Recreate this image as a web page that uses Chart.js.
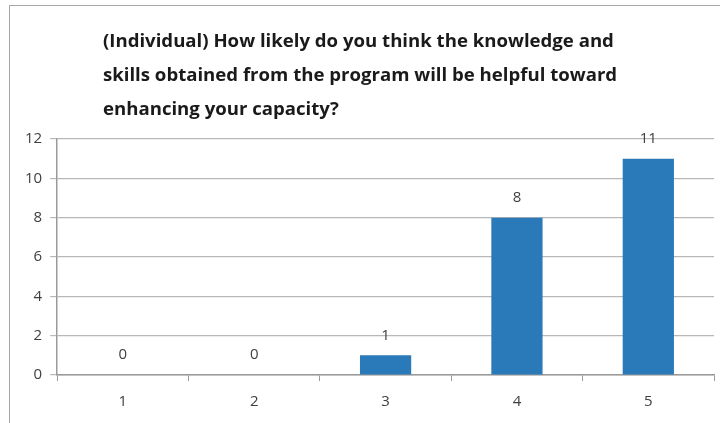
<!DOCTYPE html>
<html>
<head>
<meta charset="utf-8">
<script src="https://cdn.jsdelivr.net/npm/chart.js@4"></script>
<style>
  html, body { margin: 0; padding: 0; background: #fff; }
  #wrap { position: relative; width: 720px; height: 423px; overflow: hidden; }
  #frame { position: absolute; left: 9px; top: 5px; width: 720px; height: 430px;
           border-top: 1.5px solid #a8a8a8; border-left: 1.5px solid #a8a8a8; }
  #title { position: absolute; left: 103px; top: 23px; width: 560px;
           font-family: "Open Sans", sans-serif; font-weight: 700; font-size: 18.6px;
           line-height: 34px; color: #1a1a1a; }
  #chart { position: absolute; left: 0; top: 0; }
</style>
</head>
<body>
<div id="wrap">
  <div id="frame"></div>
  <canvas id="chart" width="720" height="423"></canvas>
  <div id="title">(Individual) How likely do you think the knowledge and<br>skills obtained from the program will be helpful toward<br>enhancing your capacity?</div>
</div>
<script>
// Rating scale and number of responses per rating
const ratings = ['1', '2', '3', '4', '5'];
const responses = [0, 0, 1, 8, 11];
const yTicks = [0, 2, 4, 6, 8, 10, 12];

// Draw each bar's value above it.
const valueLabels = {
    id: 'valueLabels',
    afterDatasetsDraw(chart) {
        const ctx = chart.ctx;
        const meta = chart.getDatasetMeta(0);
        ctx.save();
        ctx.fillStyle = '#404040';
        ctx.font = '15px "Open Sans", sans-serif';
        ctx.textAlign = 'center';
        ctx.textBaseline = 'middle';
        meta.data.forEach((bar, i) => {
            ctx.fillText(String(responses[i]), bar.x, bar.y - 20);
        });
        ctx.restore();
    }
};

new Chart(document.getElementById('chart'), {
    type: 'bar',
    data: {
        labels: ratings,
        datasets: [{
            data: responses,
            backgroundColor: '#2a7ab9',
            borderWidth: 0,
            barPercentage: 0.39,
            categoryPercentage: 1.0
        }]
    },
    options: {
        responsive: false,
        animation: false,
        devicePixelRatio: 1,
        layout: { padding: { top: 139, right: 6, left: 17, bottom: 0 } },
        plugins: {
            legend: { display: false },
            tooltip: { enabled: false }
        },
        scales: {
            x: {
                grid: { display: true, drawOnChartArea: false, drawTicks: true, tickLength: 6, color: '#9a9a9a', offset: true },
                border: { color: '#9a9a9a', width: 1.5 },
                ticks: { color: '#404040', padding: 12, font: { family: 'Open Sans', size: 15 } }
            },
            y: {
                min: 0,
                max: 12,
                afterBuildTicks(axis) { axis.ticks = yTicks.map(v => ({ value: v })); },
                grid: { color: '#b8b8b8', lineWidth: 1.2, tickLength: 7 },
                border: { color: '#9a9a9a', width: 1.5 },
                ticks: { color: '#404040', padding: 8, font: { family: 'Open Sans', size: 15 } }
            }
        }
    },
    plugins: [valueLabels]
});
</script>
</body>
</html>
